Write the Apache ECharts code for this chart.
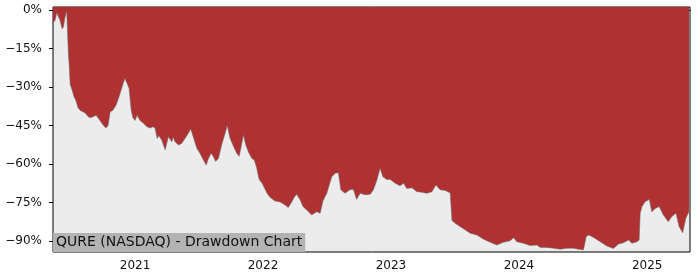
<!DOCTYPE html>
<html>
<head>
<meta charset="utf-8">
<script src="https://cdn.jsdelivr.net/npm/echarts@6/dist/echarts.min.js"></script>
<style>html,body{margin:0;padding:0;background:#fff}#c{width:700px;height:280px}</style>
</head>
<body>
<div id="c"></div>
<script>
var title = 'QURE (NASDAQ) - Drawdown Chart';
var yTicks = [-90, -75, -60, -45, -30, -15, 0];
var yearTicks = ['2021', '2022', '2023', '2024', '2025'];
var dates = [
'2020-05-12','2020-05-18','2020-05-23','2020-05-28','2020-06-01','2020-06-07','2020-06-11','2020-06-15','2020-06-20','2020-06-25',
'2020-06-27','2020-06-30','2020-07-05','2020-07-11','2020-07-17','2020-07-22','2020-07-28','2020-08-03','2020-08-11','2020-08-20',
'2020-08-26','2020-09-03','2020-09-12','2020-09-20','2020-10-02','2020-10-10','2020-10-16','2020-10-22','2020-10-30','2020-11-08',
'2020-11-16','2020-11-25','2020-12-03','2020-12-09','2020-12-15','2020-12-21','2020-12-26','2021-01-01','2021-01-07','2021-01-15',
'2021-01-24','2021-02-04','2021-02-13','2021-02-21','2021-02-27','2021-03-05','2021-03-10','2021-03-18','2021-03-28','2021-04-06',
'2021-04-16','2021-04-20','2021-04-25','2021-05-05','2021-05-14','2021-05-24','2021-06-02','2021-06-09','2021-06-16','2021-06-26',
'2021-07-05','2021-07-15','2021-07-23','2021-07-29','2021-08-06','2021-08-12','2021-08-19','2021-08-27','2021-09-05','2021-09-15',
'2021-09-21','2021-09-29','2021-10-09','2021-10-18','2021-10-25','2021-10-30','2021-11-06','2021-11-13','2021-11-20','2021-11-30',
'2021-12-07','2021-12-14','2021-12-21','2021-12-29','2022-01-05','2022-01-13','2022-01-21','2022-02-04','2022-02-19','2022-03-05',
'2022-03-14','2022-03-24','2022-03-31','2022-04-07','2022-04-17','2022-04-25','2022-05-11','2022-05-20','2022-06-03','2022-06-13',
'2022-06-21','2022-07-02','2022-07-16','2022-07-26','2022-08-04','2022-08-11','2022-08-23','2022-09-06','2022-09-16','2022-09-25',
'2022-10-05','2022-10-19','2022-11-03','2022-11-12','2022-11-22','2022-12-01','2022-12-09','2022-12-20','2022-12-30','2023-01-13',
'2023-01-27','2023-02-06','2023-02-15','2023-03-02','2023-03-16','2023-03-30','2023-04-13','2023-04-28','2023-05-09','2023-05-21',
'2023-06-05','2023-06-19','2023-06-24','2023-07-03','2023-07-17','2023-08-01','2023-08-15','2023-09-03','2023-09-22','2023-10-11',
'2023-10-30','2023-11-18','2023-12-07','2023-12-17','2023-12-26','2024-01-14','2024-02-02','2024-02-21','2024-03-02','2024-03-21',
'2024-04-09','2024-04-28','2024-05-17','2024-06-05','2024-06-19','2024-07-03','2024-07-08','2024-07-11','2024-07-18','2024-08-01',
'2024-08-20','2024-09-08','2024-09-27','2024-10-11','2024-10-25','2024-11-09','2024-11-18','2024-12-03','2024-12-09','2024-12-12',
'2024-12-17','2024-12-26','2025-01-07','2025-01-14','2025-01-24','2025-02-04','2025-02-16','2025-03-02','2025-03-12','2025-03-24',
'2025-04-02','2025-04-12','2025-04-21','2025-04-30'
];
var drawdown = [
-5,-4,-1,-1.5,-4,-7.3,-6.5,-3,-0.5,-17.5,
-21,-29,-31,-33.8,-35.5,-38,-39,-39.5,-40,-41.5,
-42,-41.6,-41,-42.5,-44.8,-46,-45,-39.7,-39,-37,
-34,-30,-26.6,-28.5,-30.5,-39,-42,-43,-41,-43,
-44,-45.5,-46,-45.5,-46,-50,-49,-50.6,-54.5,-49.4,
-51.3,-49.6,-51.3,-52.6,-52,-50,-48,-46.4,-49.4,-53.8,
-55.8,-58.4,-60.4,-58,-55.8,-57,-59,-57.8,-52.6,-48,
-45,-50,-53.2,-55.8,-57,-53.8,-48.7,-52.6,-55.2,-57.8,
-58.4,-61.5,-66,-67.4,-69.3,-71.5,-73,-74.4,-74.8,-76,
-77,-74.8,-73,-71.8,-74,-76.6,-78.6,-79.9,-78.6,-79.2,
-74.4,-71.4,-65,-63.6,-63.4,-70,-71.4,-70,-69.9,-73.8,
-71.4,-72,-71.8,-70,-66.2,-61.7,-65,-66,-66,-67.5,
-68.5,-67.5,-69.5,-69.3,-70.8,-71,-71.4,-70.8,-68.2,-70,
-70.3,-71.3,-82,-83.1,-84.4,-85.7,-87,-87.7,-89.3,-90.5,
-91.6,-90.5,-89.9,-88.7,-90.3,-90.9,-91.8,-91.6,-92.5,-92.5,
-92.8,-93.2,-92.8,-92.8,-93.2,-93.5,-93.8,-88.3,-87.7,-88.6,
-90.3,-92,-92.9,-91.2,-90.7,-89.6,-90.9,-90.3,-89.6,-79.2,
-76.6,-74.7,-73.8,-78.6,-77.3,-76.6,-79.9,-82.5,-80.5,-79.2,
-84.4,-86.8,-81.2,-78.6
];

var DAY = 86400000;
var chart = echarts.init(document.getElementById('c'), null, {renderer: 'canvas'});
var font = "'DejaVu Sans', sans-serif";
var seriesData = dates.map(function (d, i) { return [d, drawdown[i]]; });

chart.setOption({
  animation: false,
  backgroundColor: '#ffffff',
  title: {
    text: title,
    left: 53,
    top: 233,
    padding: [2, 3, 2, 3],
    backgroundColor: '#b3b3b3',
    textStyle: {fontFamily: font, fontSize: 14, fontWeight: 'normal', color: '#111', lineHeight: 15},
    z: 10
  },
  grid: [
    {left: 53, right: 10, top: 7, bottom: 28, show: true, backgroundColor: '#ececec', borderColor: '#000', borderWidth: 1, containLabel: false},
    {left: 53, right: 10, top: 10, height: 231, show: false, containLabel: false}
  ],
  xAxis: [
    {
      type: 'time', gridIndex: 0,
      min: '2020-05-12', max: '2025-05-03',
      minInterval: 360 * DAY, maxInterval: 370 * DAY,
      splitLine: {show: false},
      axisLine: {show: true, lineStyle: {color: '#000', width: 1}},
      axisTick: {show: true, length: 4, lineStyle: {color: '#000'}},
      axisLabel: {
        margin: 8, fontFamily: font, fontSize: 12, color: '#111',
        formatter: function (v) {
          var y = String(new Date(v).getUTCFullYear());
          return yearTicks.indexOf(y) >= 0 ? y : '';
        }
      }
    },
    {type: 'value', gridIndex: 1, show: false, min: 0, max: 1}
  ],
  yAxis: [
    {type: 'value', gridIndex: 0, min: -94.3, max: 1.2, show: false, splitLine: {show: false}},
    {
      type: 'value', gridIndex: 1, min: yTicks[0], max: yTicks[yTicks.length - 1], interval: 15,
      splitNumber: 6,
      splitLine: {show: false},
      axisLine: {show: false},
      axisTick: {show: true, length: 4, interval: 0, lineStyle: {color: '#000'}},
      axisLabel: {
        margin: 11, fontFamily: font, fontSize: 12, color: '#111',
        interval: 0, hideOverlap: false, showMinLabel: true, showMaxLabel: true,
        formatter: function (v) { return (v < 0 ? '\u2212' : '') + Math.abs(v) + '%'; }
      }
    }
  ],
  series: [{
    type: 'line',
    xAxisIndex: 0, yAxisIndex: 0,
    data: seriesData,
    showSymbol: false,
    symbol: 'none',
    lineStyle: {color: 'rgba(110,110,110,0.7)', width: 0.8},
    areaStyle: {origin: 'end', color: '#b03131', opacity: 1},
    z: 2
  }]
});
</script>
</body>
</html>
